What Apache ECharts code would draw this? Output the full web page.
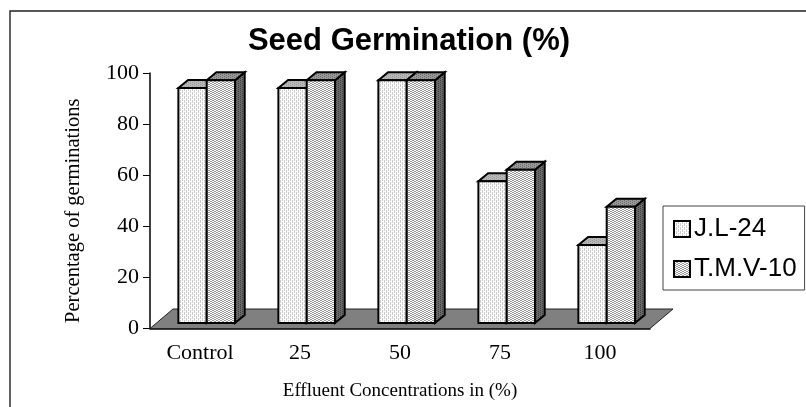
<!DOCTYPE html>
<html><head><meta charset="utf-8">
<style>html,body{margin:0;padding:0;background:#fff}#c{width:806px;height:407px}</style>
<script src="https://cdn.jsdelivr.net/npm/echarts@6/dist/echarts.min.js"></script>
</head><body><div id="c"></div>
<script>
const categories = ['Control', '25', '50', '75', '100'];
const jl24 = [92, 92, 95, 55.5, 30.5];
const tmv10 = [95, 95, 95, 60, 45.5];
const yTicks = [0, 20, 40, 60, 80, 100];

function tile(bg, dark, cells) {
  const c = document.createElement('canvas');
  c.width = 4; c.height = 4;
  const g = c.getContext('2d');
  g.fillStyle = bg; g.fillRect(0, 0, 4, 4);
  g.fillStyle = dark;
  cells.forEach(p => g.fillRect(p[0], p[1], 1, 1));
  return c;
}
const fillA = { image: tile('#ffffff', '#cccccc', [[0,0],[2,0],[0,1],[2,2],[0,2],[2,3]]), repeat: 'repeat' };
const fillB = { image: tile('#ffffff', '#9a9a9a', [[0,0],[1,0],[2,1],[3,1],[0,2],[1,2],[2,3],[3,3]]), repeat: 'repeat' };
const topA = { image: tile('#b8b8b8', '#9a9a9a', [[0,0],[2,1],[0,2],[2,3]]), repeat: 'repeat' };
const topB = { image: tile('#9a9a9a', '#6a6a6a', [[0,0],[2,1],[0,2],[2,3]]), repeat: 'repeat' };
const side = { image: tile('#6a6a6a', '#3c3c3c', [[0,0],[2,1],[0,2],[2,3]]), repeat: 'repeat' };

const FLOOR_DX = 23, FLOOR_DY = 19.5;
const OFF_X = 6.7, OFF_Y = 5.5, DEPTH_X = 9.7, DEPTH_Y = 8, BAR_W = 28.3;
const LINE = { stroke: '#000', lineWidth: 2, lineJoin: 'miter' };

function barItem(seriesIndex, fill, topFill, sideFill) {
  return function (params, api) {
    const base = api.coord([api.value(0), 0]);
    const top = api.coord([api.value(0), api.value(1)]);
    const x0 = base[0] + OFF_X + (seriesIndex === 0 ? -BAR_W : 0);
    const x1 = x0 + BAR_W;
    const y0 = base[1] - OFF_Y;
    const y1 = top[1] - OFF_Y;
    return {
      type: 'group',
      children: [
        { type: 'polygon', shape: { points: [[x1, y0], [x1 + DEPTH_X, y0 - DEPTH_Y], [x1 + DEPTH_X, y1 - DEPTH_Y], [x1, y1]] }, style: Object.assign({ fill: sideFill }, LINE) },
        { type: 'polygon', shape: { points: [[x0, y1], [x0 + DEPTH_X, y1 - DEPTH_Y], [x1 + DEPTH_X, y1 - DEPTH_Y], [x1, y1]] }, style: Object.assign({ fill: topFill }, LINE) },
        { type: 'rect', shape: { x: x0, y: y1, width: BAR_W, height: y0 - y1 }, style: Object.assign({ fill: fill }, LINE) }
      ]
    };
  };
}
function floorItem(params, api) {
  const a = api.coord([0, 0]);
  const w = api.size([1, 0])[0];
  const left = a[0] - w / 2, right = left + w * categories.length, y = a[1];
  return {
    type: 'polygon',
    shape: { points: [[left, y], [right, y], [right + FLOOR_DX, y - FLOOR_DY], [left + FLOOR_DX, y - FLOOR_DY]] },
    style: { fill: '#808080', stroke: '#222', lineWidth: 1 }
  };
}

const chart = echarts.init(document.getElementById('c'), null, { renderer: 'canvas' });
chart.setOption({
  animation: false,
  backgroundColor: '#fff',
  title: {
    text: 'Seed Germination (%)', left: 404, top: 21, textAlign: 'center',
    textStyle: { fontFamily: 'Liberation Sans', fontSize: 31, fontWeight: 'bold', color: '#000' }
  },
  graphic: [{ type: 'rect', silent: true, z: -1, shape: { x: 10, y: 11, width: 800, height: 400 }, style: { fill: 'none', stroke: '#222', lineWidth: 1.4 } }],
  legend: {
    orient: 'vertical', left: 663, top: 206, padding: [10, 8, 8, 10], itemGap: 14,
    itemWidth: 16, itemHeight: 16, icon: 'rect',
    backgroundColor: '#fff', borderColor: '#444', borderWidth: 1, borderRadius: 0,
    textStyle: { fontFamily: 'Liberation Sans', fontSize: 26, color: '#000', padding: [0, 0, 0, -1] },
    data: ['J.L-24', 'T.M.V-10']
  },
  grid: { left: 150, right: 156, top: 73, bottom: 78.5, containLabel: false },
  xAxis: {
    type: 'category', data: categories, boundaryGap: true,
    name: 'Effluent Concentrations in (%)', nameLocation: 'middle', nameGap: 53,
    nameTextStyle: { fontFamily: 'Liberation Serif', fontSize: 19, color: '#000' },
    axisLine: { lineStyle: { color: '#000', width: 1.5 } },
    axisTick: { alignWithLabel: false, length: 7, lineStyle: { color: '#000' } },
    axisLabel: { fontFamily: 'Liberation Serif', fontSize: 22, color: '#000', margin: 14 }
  },
  yAxis: {
    type: 'value', min: 0, max: 100, interval: 20,
    name: 'Percentage of germinations', nameLocation: 'middle', nameGap: 66, nameRotate: 90,
    nameTextStyle: { fontFamily: 'Liberation Serif', fontSize: 20.5, color: '#000', padding: [0, 20, 0, 0] },
    axisLine: { show: true, lineStyle: { color: '#000', width: 1.5 } },
    axisTick: { show: true, length: 7, lineStyle: { color: '#000' } },
    splitLine: { show: false },
    axisLabel: { fontFamily: 'Liberation Serif', fontSize: 22, color: '#000', margin: 11,
      customValues: yTicks }
  },
  series: [
    { type: 'custom', name: 'floor', silent: true, z: 1, renderItem: floorItem, data: [[0, 0]], encode: { x: 0, y: 1 }, clip: false },
    { type: 'custom', name: 'J.L-24', z: 2, renderItem: barItem(0, fillA, topA, side), itemStyle: { color: fillA, borderColor: '#000', borderWidth: 1.5 },
      data: jl24.map((v, i) => [i, v]), encode: { x: 0, y: 1 }, clip: false },
    { type: 'custom', name: 'T.M.V-10', z: 3, renderItem: barItem(1, fillB, topB, side), itemStyle: { color: fillB, borderColor: '#000', borderWidth: 1.5 },
      data: tmv10.map((v, i) => [i, v]), encode: { x: 0, y: 1 }, clip: false }
  ]
});
</script></body></html>
